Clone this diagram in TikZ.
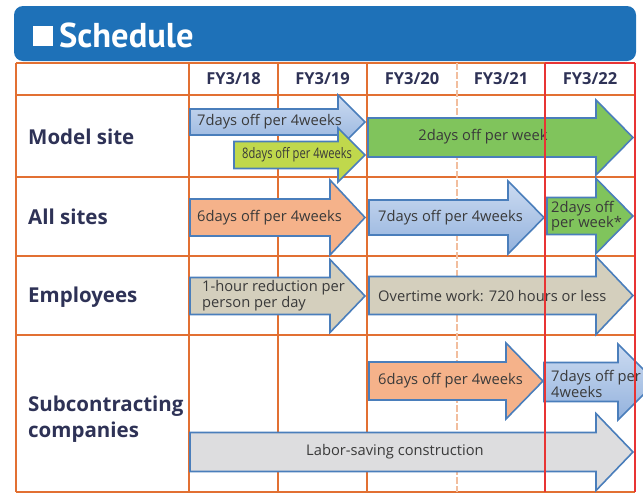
\documentclass[tikz,border=0pt]{standalone}
\usepackage{fontspec}
\setmainfont{Open Sans}
\newfontfamily\titlefont{PT Sans}
\definecolor{headblue}{HTML}{1E71B8}
\definecolor{gridorange}{HTML}{E27032}
\definecolor{gridfaint}{HTML}{F2BE9E}
\definecolor{gridred}{HTML}{E83434}
\definecolor{edgeblue}{HTML}{4A7EBB}
\definecolor{navy}{HTML}{2E3256}
\definecolor{ink}{HTML}{3A3A3A}
\definecolor{fillbluetop}{HTML}{CCDBF1}
\definecolor{fillbluebot}{HTML}{93B2DD}
\definecolor{filllime}{HTML}{C0D84C}
\definecolor{fillgreen}{HTML}{80C45C}
\definecolor{fillorange}{HTML}{F5B28A}
\definecolor{fillbeige}{HTML}{D4CFBD}
\definecolor{fillgray}{HTML}{DDDDDF}
% block arrow: #1 style, #2 start x, #3 head base x, #4 tip x,
% #5 centre y, #6 half body height, #7 half head height
\newcommand\ganttarrow[7]{%
  \path[#1] (#2,#5-#6) -- (#3,#5-#6) -- (#3,#5-#7) -- (#4,#5)
    -- (#3,#5+#7) -- (#3,#5+#6) -- (#2,#5+#6) -- cycle;}
\begin{document}
\begin{tikzpicture}[x=1pt,y=-1pt,
  grid/.style={draw=gridorange, line width=2pt},
  redline/.style={draw=gridred, line width=1.6pt},
  barbase/.style={draw=edgeblue, line width=1.6pt, line join=miter},
  barblue/.style={barbase, top color=fillbluetop, bottom color=fillbluebot},
  barlime/.style={barbase, fill=filllime},
  bargreen/.style={barbase, fill=fillgreen},
  barorange/.style={barbase, fill=fillorange},
  barbeige/.style={barbase, fill=fillbeige},
  bargray/.style={barbase, fill=fillgray},
  rowlabel/.style={anchor=west, inner sep=0pt, text=navy, align=left,
    font={\fontsize{20.5}{26}\selectfont\bfseries}},
  yearlabel/.style={inner sep=0pt, text=navy,
    font={\fontsize{16.5}{18}\selectfont\bfseries}},
  bartext/.style={inner sep=0pt, text=ink, align=left,
    font={\fontsize{14.7}{14}\selectfont}},
]
\useasboundingbox (0,0) rectangle (643,493);
\clip (0,0) rectangle (643,493);

% title bar
\fill[headblue, rounded corners=9pt] (14,6) rectangle (636,61);
\fill[white] (33,26) rectangle (53,46);
\node[anchor=base west, inner sep=0pt, text=white,
  font={\titlefont\fontsize{34.5}{36}\selectfont\bfseries}] (title) at (59,47) {Schedule};

% table grid
\draw[grid] (16,63) -- (545,63);
\foreach \y in {95,177,256,335} \draw[grid] (16,\y) -- (635,\y);
\draw[grid] (16,492) -- (635,492);
\foreach \x in {16,189,278,367} \draw[grid] (\x,63) -- (\x,492);
\draw[gridfaint, line width=1.4pt, dash pattern=on 7pt off 2pt] (457,63) -- (457,492);

% column headings
\node[yearlabel] (fy18) at (233.5,79) {FY3/18};
\node[yearlabel] (fy19) at (322.5,79) {FY3/19};
\node[yearlabel] (fy20) at (412,79) {FY3/20};
\node[yearlabel] (fy21) at (501,79) {FY3/21};
\node[yearlabel] (fy22) at (590,79) {FY3/22};

% row headings
\node[rowlabel] (model) at (28,137) {Model site};
\node[rowlabel] (all) at (28,217) {All sites};
\node[rowlabel] (empl) at (28,297) {Employees};
\node[rowlabel] (sub) at (28,419) {Subcontracting\\companies};

% Model site
\ganttarrow{barblue}{190}{338}{365}{122}{13}{27}
\ganttarrow{barlime}{234}{338}{365}{155}{13.5}{27}
\ganttarrow{bargreen}{368}{596}{633}{137.5}{19.5}{37.5}
\node[bartext, anchor=west] (m1) at (197,122) {7days off per 4weeks};
\node[bartext, anchor=west] (m2) at (242,155)
  {\scalebox{0.77}[1]{\fontsize{14.5}{14}\selectfont 8days off per 4weeks}};
\node[bartext] (m3) at (483,137) {2days off per week};

% All sites
\ganttarrow{barorange}{190}{330}{365}{217.5}{18.5}{37.5}
\ganttarrow{barblue}{369}{508}{544}{217.5}{17.5}{36.5}
\ganttarrow{bargreen}{547}{596}{633}{216}{18.5}{37.5}
\node[bartext, anchor=west] (a1) at (197,218) {6days off per 4weeks};
\node[bartext, anchor=west] (a2) at (378,218) {7days off per 4weeks};
\node[bartext, anchor=west] (a3) at (551,216) {2days off\\per week*};

% Employees
\ganttarrow{barbeige}{190}{330}{365}{296}{18.5}{36.5}
\ganttarrow{barbeige}{369}{596}{633}{295.5}{19}{39}
\node[bartext, anchor=west] (e1) at (202,296) {1-hour reduction per\\person per day};
\node[bartext, anchor=west] (e2) at (378,296) {Overtime work: 720 hours or less};

% Subcontracting companies
\ganttarrow{barorange}{369}{506}{543}{381}{19}{38}
\ganttarrow{barblue}{544}{618}{656}{382}{19.5}{38}
\ganttarrow{bargray}{190}{596}{633}{452}{19.5}{38.5}
\node[bartext, anchor=west] (s1) at (378,381) {6days off per 4weeks};
\node[bartext, anchor=west] (s2) at (551,384) {7days off per\\4weeks};
\node[bartext] (s3) at (395,452) {Labor-saving construction};

% current fiscal year frame
\draw[redline] (545,63) -- (635,63);
\draw[redline] (545,63) -- (545,492);
\draw[redline] (635,63) -- (635,492);
\end{tikzpicture}
\end{document}
